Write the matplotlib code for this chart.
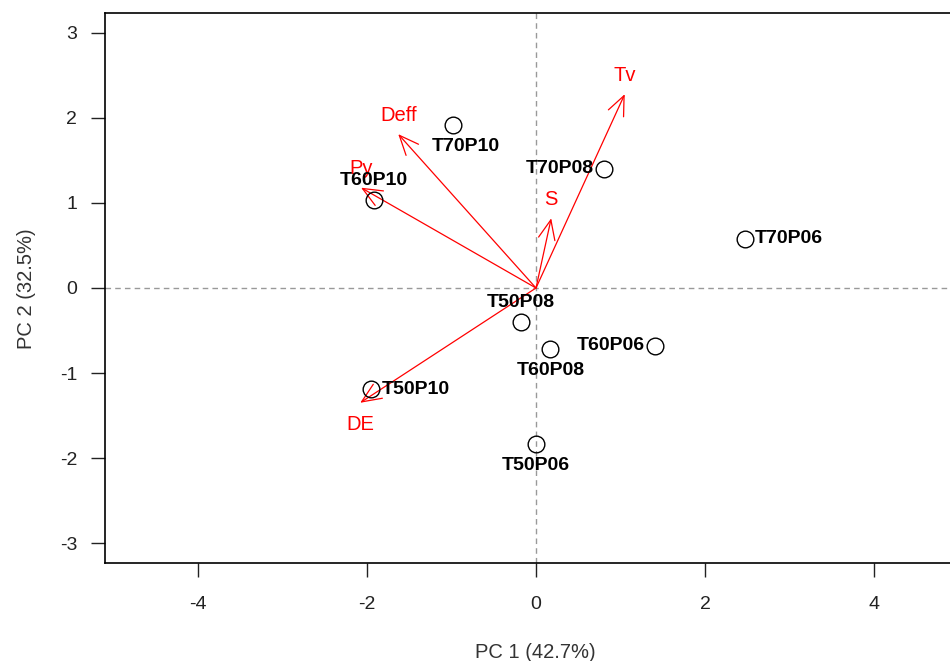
import matplotlib
matplotlib.use("Agg")
import matplotlib.pyplot as plt

plt.rcParams['font.family'] = ['Liberation Sans', 'DejaVu Sans']

# Sample scores
samples = ["T70P10", "T60P10", "T70P08", "T70P06", "T50P08", "T60P08", "T60P06", "T50P10", "T50P06"]
pc1 = [-0.98, -1.92, 0.80, 2.47, -0.18, 0.17, 1.41, -1.95, 0.00]
pc2 = [1.92, 1.04, 1.40, 0.58, -0.40, -0.72, -0.68, -1.19, -1.84]
label_pos = ["br", "above", "left", "right", "above", "below", "left", "right", "below"]

# Variable loadings (arrows)
variables = ["Deff", "Py", "Tv", "S", "DE"]
load1 = [-1.63, -2.07, 1.05, 0.18, -2.08]
load2 = [1.81, 1.18, 2.28, 0.82, -1.35]

xticks = [-4, -2, 0, 2, 4]
yticks = [-3, -2, -1, 0, 1, 2, 3]

fig = plt.figure(figsize=(9.5, 6.61), dpi=100)
ax = fig.add_axes([105/950, (661-563)/661, 862/950, 550/661])
ax.set_xlim(-5.1, 5.1)
ax.set_ylim(-3.235, 3.235)

ax.axhline(0, color='#999999', ls=(0, (4, 3)), lw=1, zorder=1)
ax.axvline(0, color='#999999', ls=(0, (4, 3)), lw=1, zorder=1)

for v, a, b in zip(variables, load1, load2):
    ax.annotate("", xy=(a, b), xytext=(0, 0),
                arrowprops=dict(arrowstyle='->,head_length=0.7,head_width=0.3',
                                color='red', lw=0.9, shrinkA=0, shrinkB=0,
                                mutation_scale=20), zorder=3)
    dy = 0.22 if b > 0 else -0.25
    ax.text(a, b + dy, v, color='red', fontsize=14.5, ha='center', va='center', zorder=4)

ax.plot(pc1, pc2, 'o', mfc='none', mec='black', ms=12, mew=1, zorder=5)

offs = {"above": (0, 0.23, 'center'), "below": (0, -0.25, 'center'),
        "left": (-0.12, 0, 'right'), "right": (0.12, 0, 'left'),
        "br": (0.15, -0.25, 'center')}
for s, x, y, p in zip(samples, pc1, pc2, label_pos):
    dx, dy, ha = offs[p]
    ax.text(x + dx, y + dy, s, fontsize=14, fontweight='bold', ha=ha, va='center', zorder=6)

ax.set_xticks(xticks)
ax.set_yticks(yticks)
ax.set_xticklabels([str(t) for t in xticks])
ax.set_yticklabels([str(t) for t in yticks])
ax.tick_params(direction='out', length=10, width=1, labelsize=14, colors='#222222')
ax.tick_params(axis='x', pad=14)
ax.tick_params(axis='y', pad=10)
ax.spines['right'].set_visible(False)
for sp in ['left', 'top', 'bottom']:
    ax.spines[sp].set_linewidth(1.2)

fig.text(535/950, 1 - 652/661, "PC 1 (42.7%)", fontsize=14.5, ha='center', va='center', color='#333333')
fig.text(27/950, 1 - 289/661, "PC 2 (32.5%)", fontsize=14.5, ha='center', va='center', rotation=90, color='#333333')

fig.savefig("out.png", dpi=100)
